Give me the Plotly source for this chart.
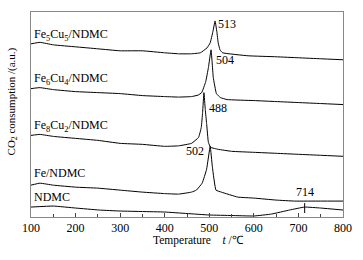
import plotly.graph_objects as go

# Temperature (°C) and CO2 consumption (a.u., offset curves)
t_fe5cu5 = [100, 120, 150, 200, 250, 300, 350, 400, 431, 460, 480, 495, 502, 508, 513, 517, 520, 524, 530, 587, 650, 700, 750, 800]
y_fe5cu5 = [174, 175.5, 173, 171, 169, 167, 167, 165, 164, 164, 165, 170, 175, 186, 197, 186, 175, 168, 165, 162, 161, 160, 159, 158]

t_fe6cu4 = [100, 120, 150, 200, 250, 300, 350, 400, 431, 460, 475, 483, 492, 498, 504, 509, 516, 525, 540, 600, 650, 700, 750, 800]
y_fe6cu4 = [129, 130, 128, 126, 125, 124, 122, 121, 120.5, 121, 122.5, 125, 136, 150, 168, 140, 124, 120, 118, 117, 116, 115, 114, 113]

t_fe8cu2 = [100, 120, 150, 200, 250, 300, 350, 400, 431, 460, 476, 482, 485, 488, 491, 494, 498, 503, 520, 550, 600, 650, 700, 750, 800]
y_fe8cu2 = [82, 83, 81, 79, 77, 74, 73, 71, 71.5, 74, 80, 90, 105, 125, 108, 94, 75, 70, 68, 66, 65, 64, 63, 62, 61]

t_fe = [100, 120, 150, 200, 250, 300, 350, 400, 431, 460, 471, 484, 494, 502, 507, 515, 527, 564, 600, 650, 691, 750, 800]
y_fe = [32, 34, 32, 30, 29, 27, 25, 23.5, 23, 25, 27, 34, 48, 71, 50, 27, 25, 20, 19, 17, 16, 16, 16]

t_ndmc = [100, 150, 200, 253, 300, 350, 400, 450, 500, 550, 600, 640, 680, 714, 750, 800]
y_ndmc = [10, 11, 9, 7, 6, 5.5, 5, 3.5, 2, 1.5, 1, 3, 7, 10, 9, 7]

series = [
    ("Fe<sub>5</sub>Cu<sub>5</sub>/NDMC", t_fe5cu5, y_fe5cu5),
    ("Fe<sub>6</sub>Cu<sub>4</sub>/NDMC", t_fe6cu4, y_fe6cu4),
    ("Fe<sub>8</sub>Cu<sub>2</sub>/NDMC", t_fe8cu2, y_fe8cu2),
    ("Fe/NDMC", t_fe, y_fe),
    ("NDMC", t_ndmc, y_ndmc),
]
label_y = [183, 139, 91, 44, 20]

peak_t = [513, 504, 488, 502, 714]
peak_lbl = ["513", "504", "488", "502", "714"]
peak_lbl_y = [194, 158, 110, 66, 25]
peak_xanchor = ["left", "left", "left", "right", "center"]
peak_xshift = [1, 3, 3, -4, 0]

xticks = [100, 200, 300, 400, 500, 600, 700, 800]

FONT = "Liberation Serif, Times New Roman, serif"

fig = go.Figure()
for name, t, y in series:
    fig.add_trace(go.Scatter(x=t, y=y, mode="lines", name=name,
                             line=dict(color="black", width=1, shape="spline", smoothing=0.3),
                             showlegend=False, hoverinfo="skip"))

# small vertical marker at 714
fig.add_trace(go.Scatter(x=[714, 714], y=[4, 14], mode="lines",
                         line=dict(color="black", width=1), showlegend=False, hoverinfo="skip"))

for (name, t, y), ly in zip(series, label_y):
    fig.add_annotation(x=103, y=ly, text=name, showarrow=False, xanchor="left",
                       yanchor="middle", font=dict(family=FONT, size=12, color="black"))

for pt, pl, py, xa, xs in zip(peak_t, peak_lbl, peak_lbl_y, peak_xanchor, peak_xshift):
    fig.add_annotation(x=pt, y=py, text=pl, showarrow=False, xanchor=xa, xshift=xs,
                       yanchor="middle", font=dict(family=FONT, size=12, color="black"))

# axis titles as annotations for exact placement
fig.add_annotation(xref="paper", yref="paper", x=0.537, y=-0.115, yanchor="middle",
                   text="Temperature\u00a0\u00a0\u00a0\u00a0<i>t</i> /℃", showarrow=False,
                   font=dict(family=FONT, size=11.5, color="black"))
fig.add_annotation(xref="paper", yref="paper", x=-0.06, y=0.565, xanchor="center", yanchor="middle",
                   textangle=-90, text="CO<sub>2</sub> consumption /(a.u.)", showarrow=False,
                   font=dict(family=FONT, size=11, color="black"))

fig.update_layout(
    width=363, height=260,
    margin=dict(l=31, r=17, t=11, b=43),
    paper_bgcolor="white", plot_bgcolor="white",
    font=dict(family=FONT, size=12, color="black"),
    xaxis=dict(range=[100, 800], tickvals=xticks, ticktext=[str(v) for v in xticks],
               ticks="inside", ticklen=4, tickcolor="#444", showline=True, linecolor="#888",
               linewidth=1, mirror=True, showgrid=False, zeroline=False,
               minor=dict(ticks="inside", ticklen=3, dtick=50, tick0=50, tickcolor="#444"),
               tickfont=dict(family=FONT, size=12, color="black")),
    yaxis=dict(range=[0, 206], showticklabels=False, ticks="", showline=True, linecolor="#888",
               linewidth=1, mirror=True, showgrid=False, zeroline=False),
)

fig.write_html("out.html", config={"displayModeBar": False},
               post_script="document.body.style.margin='0';")
